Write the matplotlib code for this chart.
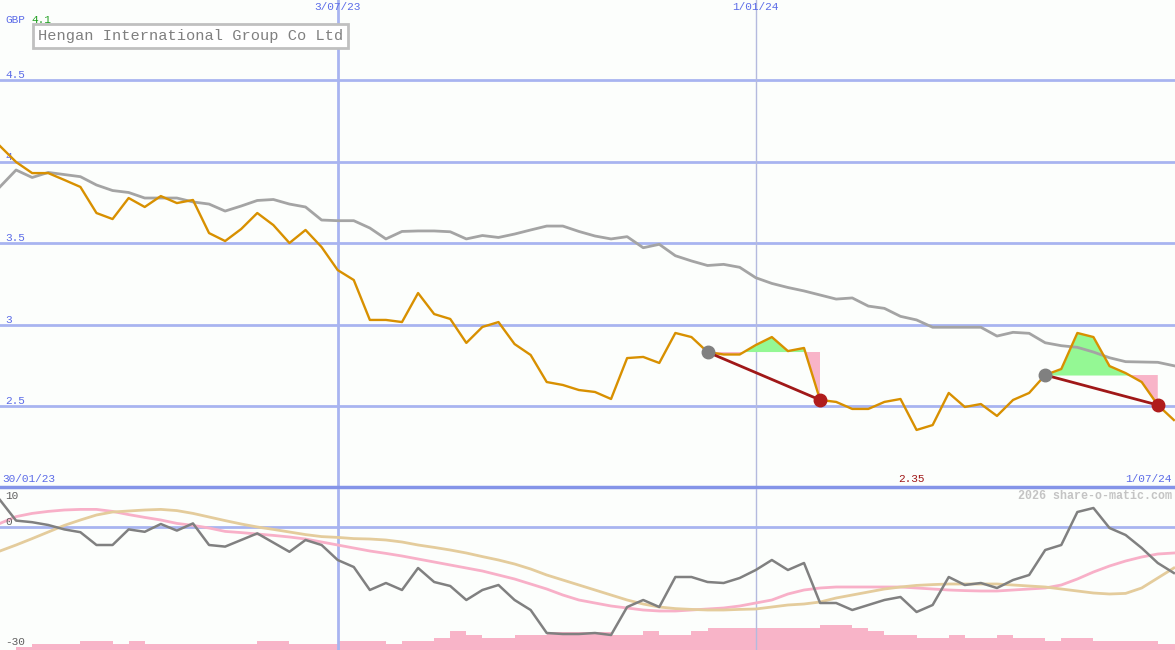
import numpy as np
import pandas as pd
import matplotlib
matplotlib.use('Agg')
import matplotlib.pyplot as plt
import matplotlib.dates as mdates

# weekly closes, GBP
dates = pd.date_range('2023-02-06', periods=74, freq='7D')
price = [4.095, 3.997, 3.929, 3.929, 3.887, 3.844, 3.684, 3.647, 3.776, 3.721,
         3.788, 3.745, 3.764, 3.561, 3.512, 3.586, 3.684, 3.610, 3.500, 3.580,
         3.475, 3.334, 3.273, 3.028, 3.028, 3.015, 3.193, 3.064, 3.034, 2.887,
         2.985, 3.015, 2.880, 2.813, 2.647, 2.629, 2.598, 2.586, 2.543, 2.794,
         2.801, 2.764, 2.948, 2.923, 2.831, 2.816, 2.816, 2.874, 2.923, 2.837,
         2.856, 2.537, 2.525, 2.482, 2.482, 2.525, 2.543, 2.353, 2.383, 2.580,
         2.494, 2.512, 2.439, 2.537, 2.580, 2.690, 2.727, 2.948, 2.923, 2.745,
         2.702, 2.647, 2.506, 2.414]
avg = [3.845, 3.948, 3.902, 3.933, 3.920, 3.907, 3.856, 3.822, 3.810, 3.776,
       3.776, 3.776, 3.752, 3.739, 3.696, 3.727, 3.761, 3.767, 3.739, 3.721,
       3.641, 3.637, 3.637, 3.592, 3.525, 3.571, 3.574, 3.574, 3.569, 3.525,
       3.546, 3.534, 3.555, 3.580, 3.604, 3.604, 3.571, 3.543, 3.525, 3.539,
       3.471, 3.492, 3.422, 3.390, 3.362, 3.369, 3.351, 3.287, 3.252, 3.227,
       3.206, 3.181, 3.156, 3.163, 3.113, 3.099, 3.050, 3.028, 2.983, 2.983,
       2.983, 2.983, 2.929, 2.952, 2.946, 2.888, 2.870, 2.860, 2.831, 2.796,
       2.772, 2.770, 2.768, 2.747]
buys = [44, 65]
sells = [51, 72]

# lower panel
mom = [6.75, 1.6, 1.2, 0.5, -0.6, -1.3, -4.5, -4.5, -0.6, -1.2,
       0.75, -0.9, 0.9, -4.5, -4.9, -3.25, -1.6, -3.9, -6.2, -3.25,
       -4.5, -8.25, -10, -15.75, -14, -15.75, -10.25, -13.75, -14.75, -18.25,
       -15.75, -14.5, -18.25, -20.75, -26.5, -26.75, -26.75, -26.5, -27, -20,
       -18.25, -20, -12.5, -12.5, -13.75, -14, -12.75, -10.75, -8.25, -10.75,
       -9, -19, -19, -20.75, -19.5, -18.25, -17.5, -21.25, -19.5, -12.5,
       -14.5, -14, -15.25, -13.25, -12, -5.75, -4.5, 3.75, 4.75, -0.25,
       -2, -5.25, -9, -11.5]
fast = [0.9, 2.6, 3.4, 3.9, 4.25, 4.4, 4.4, 3.9, 3.1, 2.4,
        1.75, 0.9, 0.4, -0.25, -1.1, -1.4, -1.75, -2.1, -2.5, -3,
        -3.75, -4.5, -5.25, -6, -6.6, -7.25, -8, -8.75, -9.5, -10.25,
        -11, -12, -13, -14.25, -15.5, -17, -18.25, -19, -19.75, -20.25,
        -20.75, -21, -21, -20.75, -20.5, -20.25, -19.75, -19, -18.25, -16.75,
        -15.75, -15.25, -15, -15, -15, -15, -15, -15.25, -15.5, -15.75,
        -15.9, -16, -16, -15.75, -15.5, -15.25, -14.5, -13, -11.25, -9.75,
        -8.5, -7.5, -6.75, -6.5]
slow = [-6, -4.5, -2.9, -1.25, 0.4, 1.75, 3, 3.75, 4, 4.25,
        4.4, 4.1, 3.4, 2.5, 1.6, 0.75, 0, -0.6, -1.25, -1.9,
        -2.4, -2.6, -2.9, -3, -3.25, -3.75, -4.5, -5.1, -5.75, -6.5,
        -7.4, -8.25, -9.25, -10.5, -12, -13.25, -14.5, -15.75, -17, -18.25,
        -19.25, -20, -20.4, -20.6, -20.75, -20.75, -20.6, -20.5, -20, -19.5,
        -19.25, -18.75, -17.75, -17, -16.25, -15.5, -15, -14.6, -14.4, -14.25,
        -14.25, -14.25, -14.25, -14.5, -14.75, -15, -15.5, -16, -16.5, -16.75,
        -16.6, -15.25, -12.75, -10.25]
volume = [0, 3, 6, 6, 6, 9, 9, 6, 9, 6,
          6, 6, 6, 6, 6, 6, 9, 9, 6, 6,
          6, 9, 9, 9, 6, 9, 9, 12, 19, 15,
          12, 12, 15, 15, 18, 18, 18, 18, 15, 15,
          19, 15, 15, 19, 22, 22, 22, 22, 22, 22,
          22, 25, 25, 22, 19, 15, 15, 12, 12, 15,
          12, 12, 15, 12, 12, 9, 12, 12, 9, 9,
          9, 9, 6, 6]

price = np.array(price)
x = mdates.date2num(dates)

bg = '#fcfefc'
grid_c = '#a8b4f0'
lab_c = '#5c6ce8'
mono = 'Liberation Mono'
fs = 8

fig = plt.figure(figsize=(11.75, 6.5), dpi=100, facecolor=bg)
ax = fig.add_axes([0, 163 / 650, 1, 487 / 650])
axv = fig.add_axes([0, 0, 1, 161 / 650])
axl = fig.add_axes([0, 0, 1, 161 / 650])
for a in (ax, axl, axv):
    a.set_facecolor('none')
    a.set_xticks([])
    a.set_yticks([])
    for s in a.spines.values():
        s.set_visible(False)
    a.set_xlim(x[0], x[-1] + 0.5)
ax.spines['bottom'].set_visible(True)
ax.spines['bottom'].set_color('#8494e8')
ax.spines['bottom'].set_linewidth(2.5)

ax.set_ylim(2.003, 4.991)
for lv in [2.5, 3, 3.5, 4, 4.5]:
    ax.axhline(lv, color=grid_c, lw=2, zorder=1)
    ax.text(5 / 1175, lv, '%g' % lv, transform=ax.get_yaxis_transform(),
            color=lab_c, fontsize=fs, family=mono, va='bottom', ha='left')

d1 = mdates.date2num(pd.Timestamp('2023-07-03'))
d2 = mdates.date2num(pd.Timestamp('2024-01-01'))
for a in (ax, axl):
    a.axvline(d1, color=grid_c, lw=2, zorder=1)
    a.axvline(d2, color='#b4bade', lw=1, zorder=1)

ax.plot(x, avg, color='#a4a4a4', lw=2, zorder=3)

# buy/sell signals
for b, s in zip(buys, sells):
    xs = x[b:s + 1]
    ys = price[b:s + 1]
    lv = price[b]
    ax.fill_between(xs, lv, ys, where=ys >= lv, interpolate=True,
                    color='#94f894', lw=0, zorder=2)
    ax.fill_between(xs, lv, ys, where=ys <= lv, interpolate=True,
                    color='#f8b4c8', lw=0, zorder=2)

ax.plot(x, price, color='#d89000', lw=1.7, zorder=4)
for b, s in zip(buys, sells):
    ax.plot([x[b], x[s]], [price[b], price[s]], color='#a01818', lw=2, zorder=5)
    ax.plot(x[b], price[b], 'o', color='#808080', ms=9, zorder=6)
    ax.plot(x[s], price[s], 'o', color='#b01c1c', ms=9, zorder=6)

# labels main
ax.text(5 / 1175, 1 - 20 / 487, 'GBP', transform=ax.transAxes, color=lab_c,
        fontsize=fs, family=mono, va='center')
ax.text(31 / 1175, 1 - 20 / 487, '%.1f' % price[0], transform=ax.transAxes,
        color='#20a020', fontsize=fs, family=mono, va='center')
ax.text(38 / 1175, 1 - 36 / 487, 'Hengan International Group Co Ltd',
        transform=ax.transAxes, color='#808080', fontsize=11.1, family=mono,
        va='center', ha='left', zorder=10,
        bbox=dict(boxstyle='square,pad=0.3', fc='white', ec='#c0c0c0', lw=2))
top = ax.get_xaxis_transform()
ax.text(d1, 1 - 2 / 487, '3/07/23', transform=top, color=lab_c, fontsize=fs,
        family=mono, ha='center', va='top')
ax.text(d2, 1 - 2 / 487, '1/01/24', transform=top, color=lab_c, fontsize=fs,
        family=mono, ha='center', va='top')
ax.text(x[0] + 1, 3 / 487, '30/01/23', transform=top, color=lab_c,
        fontsize=fs, family=mono, ha='left', va='bottom')
ax.text(x[-1] - 1, 3 / 487, '1/07/24', transform=top, color=lab_c,
        fontsize=fs, family=mono, ha='right', va='bottom')
imin = int(np.argmin(price))
ax.text(x[imin] - 2, 3 / 487, '%.2f' % price[imin], transform=top,
        color='#a01818', fontsize=fs, family=mono, ha='center', va='bottom')

# lower panel
axv.set_ylim(0, 161)
axv.bar(x, volume, width=7, align='edge', color='#f8b4c8', lw=0)
axl.set_ylim(-30.75, 9.5)
axl.axhline(0, color=grid_c, lw=2, zorder=1)
axl.plot(x, fast, color='#f8b0c8', lw=2, zorder=2)
axl.plot(x, slow, color='#e4cc9c', lw=2, zorder=2)
axl.plot(x, mom, color='#808080', lw=1.8, zorder=3)
yt = axl.get_yaxis_transform()
axl.text(5 / 1175, 9, '10', transform=yt, color='#606060', fontsize=fs,
         family=mono, va='top')
axl.text(5 / 1175, 0, '0', transform=yt, color='#606060', fontsize=fs,
         family=mono, va='bottom')
axl.text(5 / 1175, -30, '-30', transform=yt, color='#606060', fontsize=fs,
         family=mono, va='bottom')
axl.text(1 - 3 / 1175, 1 - 7 / 161, '2026 share-o-matic.com',
         transform=axl.transAxes, color='#c4c4c4', fontsize=8.4,
         family=mono, weight='bold', ha='right', va='center')

fig.savefig('out.png', dpi=100, facecolor=bg)
